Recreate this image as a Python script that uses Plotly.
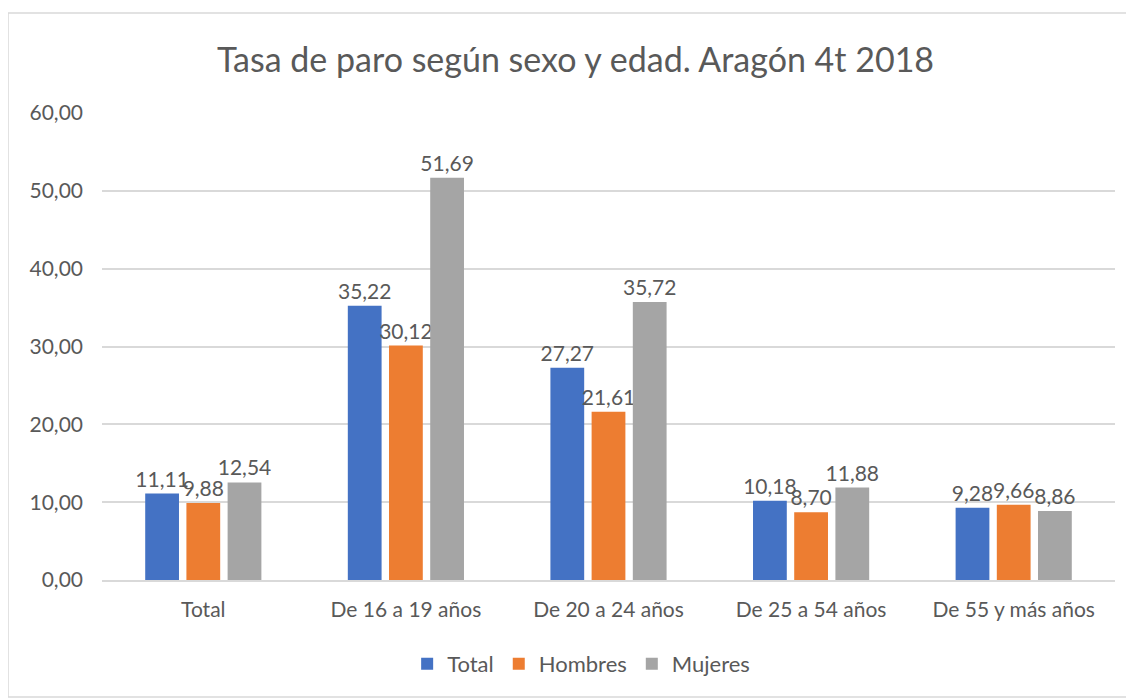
import plotly.graph_objects as go

categories = ["Total", "De 16 a 19 años", "De 20 a 24 años", "De 25 a 54 años", "De 55 y más años"]
total = [11.11, 35.22, 27.27, 10.18, 9.28]
hombres = [9.88, 30.12, 21.61, 8.70, 9.66]
mujeres = [12.54, 51.69, 35.72, 11.88, 8.86]

series = [("Total", total, "#4472C4"), ("Hombres", hombres, "#ED7D31"), ("Mujeres", mujeres, "#A5A5A5")]

FONT = "Lato, 'Open Sans', sans-serif"
TXT = "#595959"

fig = go.Figure()
for name, vals, col in series:
    fig.add_trace(go.Bar(
        name=name, x=categories, y=vals, marker_color=col, marker_line_width=0,
        texttemplate="%{y:.2f}", textposition="outside", cliponaxis=False,
        constraintext="none",
        textfont=dict(family=FONT, size=21, color=TXT),
    ))

fig.update_layout(
    width=1126, height=690,
    separators=",.",
    paper_bgcolor="white", plot_bgcolor="white",
    margin=dict(l=94, r=19, t=105, b=118),
    barmode="group", bargap=0.39, bargroupgap=0.18,
    title=dict(text="Tasa de paro según sexo y edad. Aragón 4t 2018", x=0.504, xanchor="center",
               y=0.925, yanchor="middle", font=dict(family=FONT, size=34, color=TXT)),
    font=dict(family=FONT, color=TXT, size=21),
    legend=dict(orientation="h", x=0.473, xanchor="center", y=-0.18, yanchor="middle",
                font=dict(family=FONT, size=22, color=TXT), traceorder="normal"),
    xaxis=dict(showgrid=False, showline=True, linecolor="#D9D9D9", linewidth=1.5, ticks="",
               ticklabelstandoff=10,
               tickfont=dict(family=FONT, size=21, color=TXT)),
    yaxis=dict(range=[0, 60], dtick=10, tickformat=".2f", showgrid=True, gridcolor="#D9D9D9",
               gridwidth=1.5, zeroline=False, showline=False, ticks="", ticklabelstandoff=18,
               tickfont=dict(family=FONT, size=21, color=TXT)),
    shapes=[dict(type="rect", xref="paper", yref="paper", x0=-0.0928, x1=1.0148, y0=-0.2505, y1=1.214,
                 line=dict(color="#D9D9D9", width=1.5), fillcolor="rgba(0,0,0,0)", layer="below")],
)

fig.write_html("out.html")
